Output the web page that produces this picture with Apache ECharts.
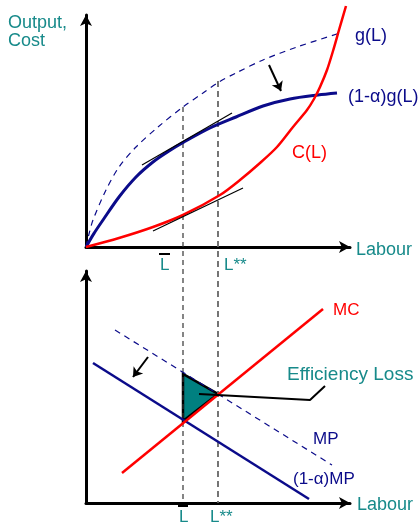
<!DOCTYPE html>
<html>
<head>
<meta charset="utf-8">
<script src="https://cdn.jsdelivr.net/npm/echarts@6/dist/echarts.min.js"></script>
<style>
  html, body { margin: 0; padding: 0; background: #fff; }
  #chart { width: 420px; height: 524px; }
</style>
</head>
<body>
<div id="chart"></div>
<script>
// top panel: output and cost against labour (x 0..132, y 0..116)
const gL = [[0, 0], [1.5, 6.5], [3.5, 13.5], [10, 28.5], [16.5, 40], [25, 50], [36, 60], [48.5, 70], [58.5, 77], [66.5, 82.5], [75, 87], [88.5, 93.5], [105.5, 100], [127, 107]];
const gLTaxed = [[0, 0], [4, 6.8], [8.5, 13.5], [16.5, 25], [25, 35], [33.5, 42.5], [41.5, 48], [49, 52.5], [62, 59.5], [75, 65], [88.5, 70.5], [102, 74], [116, 76], [125.5, 77]];
const costL = [[0, 0], [16.5, 4.5], [33.5, 10], [48.5, 16], [67, 26], [77, 33.5], [87, 42], [95.5, 50], [103.5, 60], [110.5, 68.5], [114, 74], [117, 80], [120.5, 88.5], [123.5, 98], [126.5, 108.5], [130, 120.5]];
const tangentTaxed = [[28, 41], [73, 67]];
const tangentCost = [[33.5, 8], [78.5, 29.5]];
const shiftTop = [[91.5, 91], [97.5, 78]];
const lBar = 48.5;
const lStar = 66;
const gAtLBar = 70;
const gAtLStar = 83;
const bottomAxisY = -128;

// bottom panel: marginal product and marginal cost (x 0..132, y 0..116)
const mc = [[18, 15], [118.5, 97]];
const mp = [[14.5, 86.5], [123, 19]];
const mpTaxed = [[3.5, 70], [111.5, 2]];
const lossTriangle = [[48.5, 64.5], [48.5, 41], [66, 54.5]];
const lossPointer = [[56.5, 54.5], [112, 51.5], [119.5, 58.5]];
const shiftBottom = [[31, 73], [23.5, 63]];

const NAVY = '#0b0b8a';
const RED = '#ff0000';
const TEAL = '#178a8a';
const FONT = '"Liberation Sans", Arial, sans-serif';

const chart = echarts.init(document.getElementById('chart'));

function axisPair(gridIndex, xMax, yMax) {
  const line = {
    show: true,
    symbol: ['none', 'arrow'],
    symbolSize: [9, 11],
    lineStyle: { color: '#000', width: 3 },
  };
  return {
    x: {
      type: 'value', gridIndex, min: 0, max: xMax,
      axisLine: line, axisTick: { show: false }, axisLabel: { show: false }, splitLine: { show: false },
    },
    y: {
      type: 'value', gridIndex, min: 0, max: yMax,
      axisLine: line, axisTick: { show: false }, axisLabel: { show: false }, splitLine: { show: false },
    },
  };
}

const topAxes = axisPair(0, 132, 116);
const botAxes = axisPair(1, 132, 116);

function curve(data, idx, color, width, type, smooth) {
  return {
    type: 'line',
    xAxisIndex: idx, yAxisIndex: idx,
    data,
    smooth: smooth ? 0.3 : false,
    symbol: 'none',
    clip: false,
    silent: true,
    lineStyle: { color, width, type: type || 'solid' },
  };
}

function arrow(coords, idx) {
  return {
    type: 'lines',
    coordinateSystem: 'cartesian2d',
    xAxisIndex: idx, yAxisIndex: idx,
    symbol: ['none', 'arrow'],
    symbolSize: 9,
    silent: true,
    lineStyle: { color: '#000', width: 2, opacity: 1 },
    data: [{ coords }],
  };
}

function text(str, x, y, color, size) {
  return {
    type: 'text',
    style: {
      text: str, x, y, fill: color,
      fontSize: size, fontFamily: FONT,
      verticalAlign: 'middle',
    },
    silent: true,
  };
}

chart.setOption({
  animation: false,
  grid: [
    { left: 86, top: 15, width: 264, height: 232 },
    { left: 86, top: 271, width: 264, height: 232 },
  ],
  xAxis: [topAxes.x, botAxes.x],
  yAxis: [topAxes.y, botAxes.y],
  series: [
    curve([[lBar, gAtLBar], [lBar, bottomAxisY]], 0, '#333', 1.2, [5, 4]),
    curve([[lStar, gAtLStar], [lStar, bottomAxisY]], 0, '#666', 1.8, [6, 4]),
    curve(gL, 0, NAVY, 1.2, [6, 5], true),
    curve(gLTaxed, 0, NAVY, 3, 'solid', true),
    curve(costL, 0, RED, 2.5, 'solid', true),
    curve(tangentTaxed, 0, '#000', 1.2),
    curve(tangentCost, 0, '#000', 1.2),
    arrow(shiftTop, 0),

    curve(mp, 1, NAVY, 1.2, [6, 5]),
    curve(mpTaxed, 1, NAVY, 2.5),
    curve(mc, 1, RED, 2.5),
    {
      type: 'custom',
      xAxisIndex: 1, yAxisIndex: 1,
      silent: true,
      data: [0],
      renderItem: function (params, api) {
        return {
          type: 'polygon',
          shape: { points: lossTriangle.map((p) => api.coord(p)) },
          style: { fill: '#008080', stroke: '#000', lineWidth: 2.5, lineJoin: 'miter' },
        };
      },
    },
    curve(lossPointer, 1, '#000', 2),
    arrow(shiftBottom, 1),
  ],
  graphic: [
    text('Output,', 8, 23, TEAL, 18),
    text('Cost', 8, 41, TEAL, 18),
    text('g(L)', 355, 36, NAVY, 18),
    text('(1-α)g(L)', 348, 97, NAVY, 18),
    text('C(L)', 292, 153, RED, 18),
    text('Labour', 356, 250, TEAL, 18),
    { type: 'rect', shape: { x: 159, y: 253, width: 11, height: 2 }, style: { fill: '#000' }, silent: true },
    text('L', 160, 265, TEAL, 17),
    text('L**', 224, 265, TEAL, 17),

    text('MC', 333, 310, RED, 17),
    text('Efficiency Loss', 287, 375, TEAL, 19),
    text('MP', 313, 439, NAVY, 17),
    text('(1-α)MP', 293, 479, NAVY, 17),
    text('Labour', 357, 505, TEAL, 18),
    { type: 'rect', shape: { x: 178, y: 504, width: 10, height: 3 }, style: { fill: '#000' }, silent: true },
    text('L', 179, 517, TEAL, 17),
    text('L**', 210, 517, TEAL, 17),
  ],
});
</script>
</body>
</html>
